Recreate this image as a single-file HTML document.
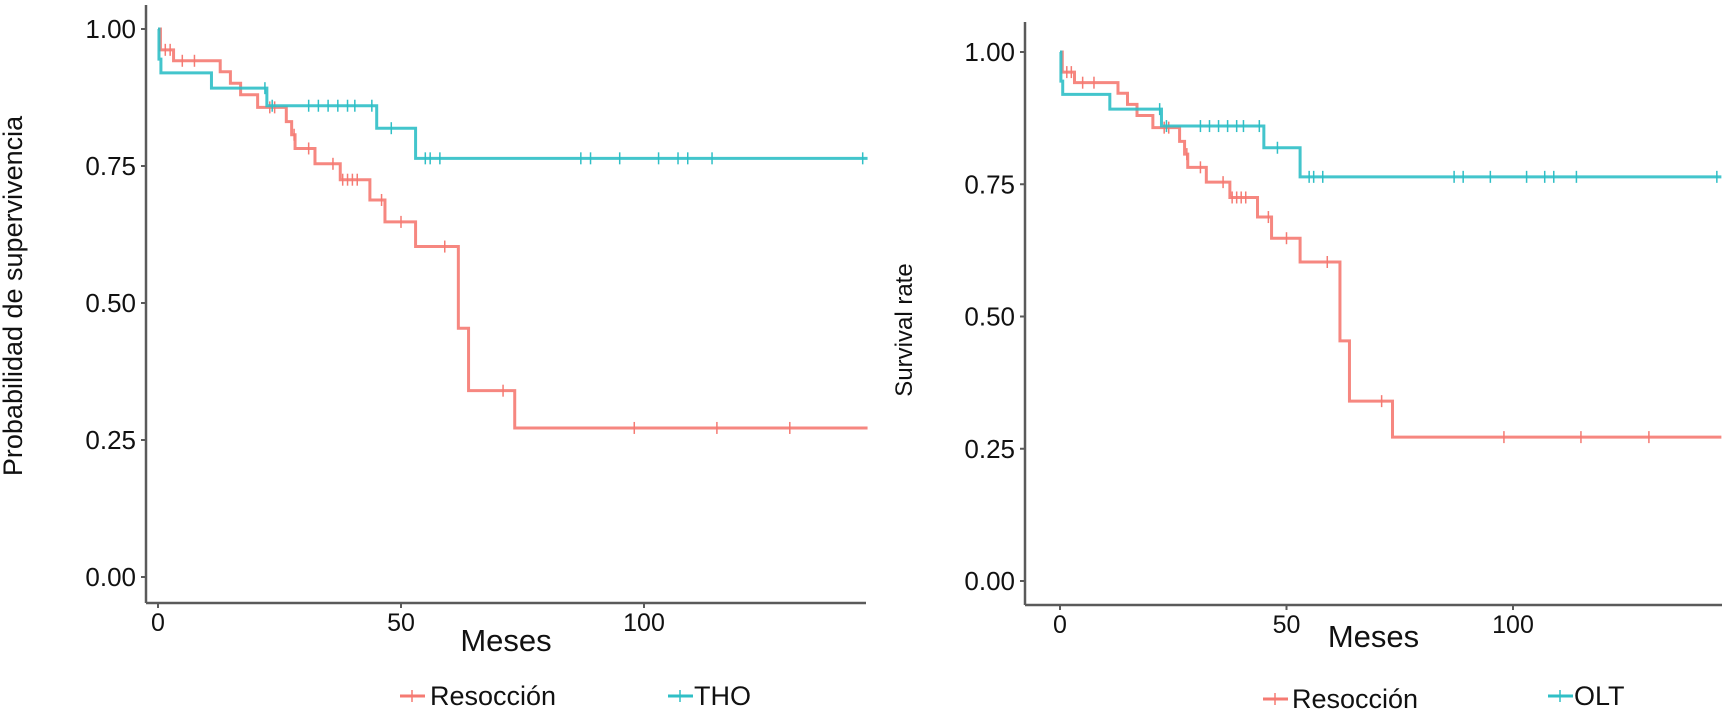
<!DOCTYPE html>
<html><head><meta charset="utf-8"><style>
html,body{margin:0;padding:0;background:#fff;}
svg{display:block;font-family:"Liberation Sans",Arial,sans-serif;}
</style></head><body>
<svg id="c" width="1727" height="715" viewBox="0 0 1727 715"></svg>
<script>
const yTicks=[0,0.25,0.5,0.75,1];
const yTickLabels=["0.00","0.25","0.50","0.75","1.00"];
const xTicks=[0,50,100];
const xTickLabels=["0","50","100"];
const redTimes=[0,0.5,3.2,12.8,14.9,17,20.5,26.4,27.5,28.2,32.3,37.5,43.6,46.7,53,61.8,63.9,73.4,146];
const redSurv=[1,0.962,0.942,0.922,0.901,0.88,0.857,0.831,0.807,0.782,0.754,0.725,0.688,0.648,0.603,0.454,0.34,0.272,0.272];
const redCens=[1.5,2.5,5,7.5,23,24,28,31,36,38,39,40,41,46,50,59,71,98,115,130];
const blueTimes=[0,0.2,0.6,11,22.4,45,53,146];
const blueSurv=[1,0.945,0.92,0.892,0.86,0.819,0.764,0.764];
const blueCens=[22,23.5,31,33,35,37,39,40.5,44,48,55,56,58,87,89,95,103,107,109,114,145];
const panels=[
 {id:"left",ax:146,top:5,bottom:603,right:866,x0:158,xs:4.86,y1:29,yu:548,ylab:"Probabilidad de supervivencia",ylx:22,yly:296,yfs:27,g2:"THO",
  leg:{rk:400,rt:430,ry:705,bk:668,bt:694,by:705}},
 {id:"right",ax:1025,top:22,bottom:605,right:1722,x0:1060,xs:4.53,y1:52,yu:529,ylab:"Survival rate",ylx:912,yly:330,yfs:24,g2:"OLT",
  leg:{rk:1263,rt:1292,ry:708,bk:1548,bt:1574,by:705}}
];
const NS="http://www.w3.org/2000/svg";
const svg=document.getElementById('c');
function mk(t,a,p){const e=document.createElementNS(NS,t);for(const k in a)e.setAttribute(k,a[k]);(p||svg).appendChild(e);return e;}
function stepPath(xf,yf,ts,ss){let d="M"+xf(ts[0])+","+yf(ss[0]);for(let i=1;i<ts.length;i++){d+=" H"+xf(ts[i])+" V"+yf(ss[i]);}return d;}
function survAt(ts,ss,t){let v=ss[0];for(let i=0;i<ts.length;i++){if(ts[i]<=t)v=ss[i];}return v;}
panels.forEach(p=>{
  const g=mk('g',{});
  
  
  const xf=t=>p.x0+p.xs*t, yf=s=>p.y1+p.yu*(1-s);
  const ya=mk('line',{x1:p.ax,y1:p.top,x2:p.ax,y2:p.bottom,stroke:"#5a5a5a","stroke-width":2.5},g);
  
  const xa=mk('line',{x1:p.ax,y1:p.bottom,x2:p.right,y2:p.bottom,stroke:"#5a5a5a","stroke-width":2.5},g);
  
  yTicks.forEach((v,i)=>{
    mk('line',{x1:p.ax-5,y1:yf(v),x2:p.ax,y2:yf(v),stroke:"#5a5a5a","stroke-width":2},g);
    const t=mk('text',{x:p.ax-10,y:yf(v)+9,"text-anchor":"end","font-size":26,fill:"#111"},g);
    t.textContent=yTickLabels[i];
    
  });
  xTicks.forEach((v,i)=>{
    mk('line',{x1:xf(v),y1:p.bottom,x2:xf(v),y2:p.bottom+5,stroke:"#5a5a5a","stroke-width":2},g);
    const t=mk('text',{x:xf(v),y:p.bottom+28,"text-anchor":"middle","font-size":25,fill:"#111"},g);
    t.textContent=xTickLabels[i];
    
  });
  const xt=mk('text',{x:(p.ax+p.right)/2,y:p.bottom+(p.id==="left"?48:42),"text-anchor":"middle","font-size":31,fill:"#111"},g);
  xt.textContent="Meses";
  
  const yt=mk('text',{x:0,y:0,"text-anchor":"middle","font-size":p.yfs,fill:"#111",transform:"translate("+p.ylx+","+p.yly+") rotate(-90)"},g);
  yt.textContent=p.ylab;
  
  [[redTimes,redSurv,redCens,"#f57a72","resection"],[blueTimes,blueSurv,blueCens,"#2fbfc6","transplant"]].forEach(s=>{
    const path=mk('path',{d:stepPath(xf,yf,s[0],s[1]),fill:"none",stroke:s[3],"stroke-width":3,"stroke-opacity":0.9},g);
    
    s[2].forEach(c=>{
      const y=yf(survAt(s[0],s[1],c));
      const m=mk('line',{x1:xf(c),y1:y-6,x2:xf(c),y2:y+6,stroke:s[3],"stroke-width":1.5},g);
      
    });
  });
  const L=p.leg;
  const rk=mk('g',{},g);
  mk('line',{x1:L.rk,y1:L.ry-9,x2:L.rk+25,y2:L.ry-9,stroke:"#f57a72","stroke-width":3},rk);
  mk('line',{x1:L.rk+12,y1:L.ry-15,x2:L.rk+12,y2:L.ry-3,stroke:"#f57a72","stroke-width":1.5},rk);
  const rtx=mk('text',{x:L.rt,y:L.ry,"font-size":27,fill:"#111"},rk);rtx.textContent="Resocción";
  const bk=mk('g',{},g);
  mk('line',{x1:L.bk,y1:L.by-9,x2:L.bk+25,y2:L.by-9,stroke:"#2fbfc6","stroke-width":3},bk);
  mk('line',{x1:L.bk+12,y1:L.by-15,x2:L.bk+12,y2:L.by-3,stroke:"#2fbfc6","stroke-width":1.5},bk);
  const btx=mk('text',{x:L.bt,y:L.by,"font-size":27,fill:"#111"},bk);btx.textContent=p.g2;
});
</script>
</body></html>
